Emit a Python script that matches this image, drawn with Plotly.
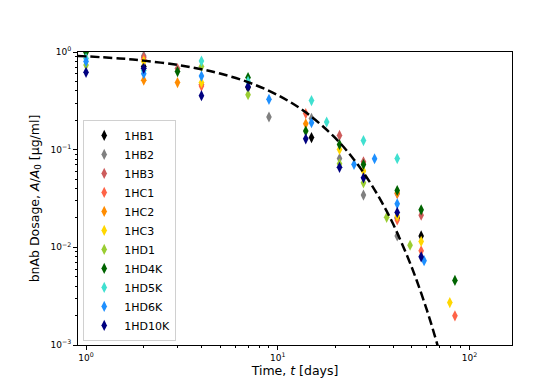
import plotly.graph_objects as go

# antibody series, measured points (days, normalised dosage)
series_names = ["1HB1", "1HB2", "1HB3", "1HC1", "1HC2", "1HC3",
                "1HD1", "1HD4K", "1HD5K", "1HD6K", "1HD10K"]
series_colors = ["black", "grey", "indianred", "tomato", "darkorange", "gold",
                 "yellowgreen", "darkgreen", "turquoise", "dodgerblue", "navy"]

hb1_t = [2, 7, 15, 42, 56]
hb1_a = [0.71, 0.432, 0.133, 0.020, 0.0131]

hb2_t = [2, 9, 15, 21, 28, 42]
hb2_a = [0.91, 0.216, 0.209, 0.0812, 0.0343, 0.0131]

hb3_t = [2, 3, 4, 21, 28, 42, 56]
hb3_a = [0.88, 0.677, 0.464, 0.140, 0.075, 0.0354, 0.0213]

hc1_t = [2, 4, 14, 42, 56, 84]
hc1_a = [0.84, 0.448, 0.234, 0.0191, 0.0092, 0.00199]

hc2_t = [2, 3, 14, 42]
hc2_a = [0.515, 0.486, 0.184, 0.036]

hc3_t = [2, 4, 21, 28, 42, 56, 79]
hc3_a = [0.80, 0.486, 0.1005, 0.0603, 0.0208, 0.0115, 0.00272]

hd1_t = [1, 4, 7, 21, 28, 37, 49]
hd1_a = [0.735, 0.71, 0.366, 0.0717, 0.0458, 0.0203, 0.0105]

hd4k_t = [1, 3, 7, 14, 21, 28, 42, 56, 84]
hd4k_a = [0.99, 0.63, 0.547, 0.155, 0.113, 0.0705, 0.0382, 0.0242, 0.00458]

hd5k_t = [1, 2, 4, 7, 15, 18, 28, 42]
hd5k_a = [0.86, 0.645, 0.808, 0.50, 0.318, 0.192, 0.124, 0.081]

hd6k_t = [1, 2, 4, 9, 15, 25, 32, 42, 58]
hd6k_a = [0.80, 0.60, 0.567, 0.328, 0.189, 0.0706, 0.0807, 0.0279, 0.0073]

hd10k_t = [1, 2, 4, 7, 14, 21, 28, 42, 56]
hd10k_a = [0.62, 0.68, 0.357, 0.443, 0.129, 0.066, 0.0515, 0.0228, 0.0080]

series_t = [hb1_t, hb2_t, hb3_t, hc1_t, hc2_t, hc3_t,
            hd1_t, hd4k_t, hd5k_t, hd6k_t, hd10k_t]
series_a = [hb1_a, hb2_a, hb3_a, hc1_a, hc2_a, hc3_a,
            hd1_a, hd4k_a, hd5k_a, hd6k_a, hd10k_a]

# dashed model curve
fit_t = [0.9, 1.5, 2, 3, 4, 5, 7, 10, 14, 20, 25, 30, 35, 40, 50, 60, 68, 72]
fit_a = [0.913, 0.859, 0.816, 0.737, 0.666, 0.602, 0.491, 0.362, 0.241,
         0.131, 0.079, 0.0476, 0.0287, 0.0173, 0.00625, 0.00227, 0.00101, 0.00067]

# tick labels
x_tickvals = [1, 10, 100]
x_ticktext = ["10<sup>0</sup>", "10<sup>1</sup>", "10<sup>2</sup>"]
y_tickvals = [0.001, 0.01, 0.1, 1]
y_ticktext = ["10<sup>\u22123</sup>", "10<sup>\u22122</sup>", "10<sup>\u22121</sup>", "10<sup>0</sup>"]

fig = go.Figure()

for name, color, t, a in zip(series_names, series_colors, series_t, series_a):
    fig.add_trace(go.Scatter(
        x=t, y=a, mode="markers", name=name,
        marker=dict(symbol="diamond-tall", size=8, color=color, line=dict(width=0)),
    ))

fig.add_trace(go.Scatter(
    x=fit_t, y=fit_a, mode="lines", showlegend=False,
    line=dict(color="black", width=2.5, dash="9px,4px", shape="spline"),
))

axis_common = dict(
    showgrid=False, zeroline=False,
    showline=True, linecolor="black", linewidth=1, mirror=True,
    ticks="outside", ticklen=4, tickcolor="black", tickwidth=1,
    tickfont=dict(family="DejaVu Sans", size=9, color="black"),
    minor=dict(ticks="outside", ticklen=2, tickcolor="black", dtick="D1", showgrid=False),
)

fig.update_xaxes(
    type="log", range=[-0.042, 2.222],
    tickmode="array", tickvals=x_tickvals, ticktext=x_ticktext,
    title=dict(text="Time, <i>t</i> [days]", standoff=2,
               font=dict(family="DejaVu Sans", size=12.5, color="black")),
    **axis_common,
)
fig.update_yaxes(
    type="log", range=[-3, 0],
    tickmode="array", tickvals=y_tickvals, ticktext=y_ticktext,
    title=dict(text="bnAb Dosage, <i>A</i>/<i>A</i><sub>0</sub> [\u03bcg/ml]", standoff=8,
               font=dict(family="DejaVu Sans", size=12.5, color="black")),
    **axis_common,
)

fig.update_layout(
    width=556, height=379,
    margin=dict(l=70, r=52, t=44, b=42),
    paper_bgcolor="white", plot_bgcolor="white",
    font=dict(family="DejaVu Sans", color="black"),
    legend=dict(
        x=0.012, y=0.014, xanchor="left", yanchor="bottom",
        bgcolor="white", bordercolor="#d0d0d0", borderwidth=1,
        font=dict(family="DejaVu Sans", size=11, color="black"),
        tracegroupgap=0, itemwidth=30,
    ),
)

fig.write_html("out.html")
